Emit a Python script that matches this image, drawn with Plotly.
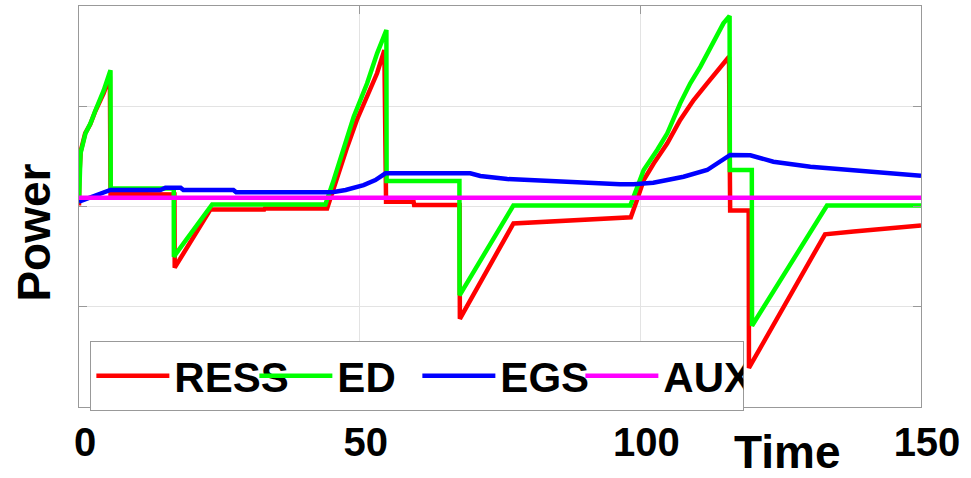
import plotly.graph_objects as go

# ---------------- data ----------------
ress_t = [0, 0.05, 0.3, 1.1, 2.0, 2.9, 4.4, 5.5, 5.62, 14.5, 17.0, 17.05, 23.4, 33.0, 33.1,
          44.2, 46.0, 47.8, 49.5, 51.3, 53.1, 54.4, 54.7, 59.6, 59.7, 67.8, 67.85, 77.4,
          85.0, 92.0, 98.3, 99.4, 100.6, 102.4, 104.8, 107.1, 109.5, 111.9, 114.2, 115.8,
          116.0, 119.3, 119.35, 132.9, 138.0, 144.0, 150.0]
ress_y = [0.01, 0.29, 0.55, 0.73, 0.82, 0.95, 1.13, 1.30, 0.125, 0.125, 0.12, -0.61, -0.03,
          -0.03, -0.02, -0.02, 0.297, 0.597, 0.863, 1.095, 1.329, 1.56, 0.048, 0.048, 0.015,
          0.015, -1.12, -0.169, -0.15, -0.13, -0.108, 0.065, 0.264, 0.431, 0.630, 0.863,
          1.062, 1.229, 1.395, 1.494, -0.04, -0.04, -1.61, -0.277, -0.25, -0.22, -0.19]

ed_t = [0, 0.27, 1.16, 2.05, 2.94, 4.42, 5.61, 5.65, 16.88, 16.9, 23.72, 43.9, 45.38, 47.16,
        48.94, 51.33, 53.11, 54.76, 54.8, 67.77, 67.8, 77.38, 98.2, 98.8, 100.6, 103.0,
        104.8, 107.1, 108.9, 110.7, 113.1, 114.8, 115.9, 115.95, 119.86, 119.9, 133.25, 150.0]
ed_y = [0.035, 0.53, 0.73, 0.83, 0.96, 1.16, 1.36, 0.18, 0.18, -0.50, 0.02, 0.02, 0.264,
        0.597, 0.896, 1.229, 1.528, 1.76, 0.254, 0.254, -0.886, 0.01, 0.01, 0.098, 0.364,
        0.564, 0.730, 1.029, 1.229, 1.395, 1.661, 1.827, 1.90, 0.364, 0.364, -1.19, 0.01, 0.01]

egs_t = [0, 5.6, 14.5, 15.4, 18.1, 18.6, 27.5, 28.0, 44.3, 45.4, 47.5, 50.7, 52.8, 54.6,
         69.7, 71.5, 76.3, 82.2, 88.7, 96.4, 98.8, 102.3, 104.8, 107.7, 111.9, 116.0,
         119.6, 123.7, 130.3, 135.6, 142.7, 150.0]
egs_y = [0.048, 0.165, 0.165, 0.188, 0.188, 0.165, 0.165, 0.142, 0.142, 0.145, 0.165,
         0.214, 0.264, 0.331, 0.331, 0.304, 0.274, 0.257, 0.237, 0.221, 0.221, 0.237,
         0.264, 0.297, 0.364, 0.514, 0.511, 0.447, 0.397, 0.371, 0.337, 0.307]

aux_t = [0, 150]
aux_y = [0.088, 0.088]

x_ticks = [0, 50, 100, 150]
x_ticktext = ["0", "50", "100", "150"]
y_ticks = [-2, -1, 0, 1, 2]

series = [
    ("RESS", ress_t, ress_y, "#ff0000"),
    ("ED", ed_t, ed_y, "#00ff00"),
    ("EGS", egs_t, egs_y, "#0000ff"),
    ("AUX", aux_t, aux_y, "#ff00ff"),
]

FONT = "Liberation Sans, Arial, Helvetica, sans-serif"

fig = go.Figure()
for name, t, y, c in series:
    fig.add_trace(go.Scatter(x=t, y=y, mode="lines", name=name,
                             line=dict(color=c, width=4.5)))

fig.update_layout(
    width=971, height=478,
    margin=dict(l=79, r=50, t=6, b=71),
    paper_bgcolor="white", plot_bgcolor="white",
    font=dict(family=FONT, color="black"),
    showlegend=True,
    legend=dict(
        orientation="h", x=0.0135, xanchor="left", y=0.165, yanchor="top",
        bgcolor="white", bordercolor="#999999", borderwidth=1,
        font=dict(family=FONT, size=42, weight="bold", color="black"),
        itemwidth=73, entrywidth=75, entrywidthmode="pixels",
        tracegroupgap=0,
    ),
    xaxis=dict(
        range=[0, 150], tickvals=x_ticks, ticktext=x_ticktext,
        showgrid=True, gridcolor="#e3e3e3", gridwidth=1, zeroline=False,
        showline=True, linecolor="#999999", linewidth=1, mirror="ticks",
        ticks="inside", ticklen=8, tickcolor="#999999",
        tickfont=dict(family=FONT, size=40, weight="bold", color="black"),
        ticklabelstandoff=0, ticklabelshift=6,
    ),
    yaxis=dict(
        range=[-2, 2], tickvals=y_ticks, showticklabels=False,
        showgrid=True, gridcolor="#e3e3e3", gridwidth=1, zeroline=False,
        showline=True, linecolor="#999999", linewidth=1, mirror="ticks",
        ticks="inside", ticklen=8, tickcolor="#999999",
    ),
    annotations=[
        dict(text="Time", xref="paper", yref="paper", x=0.841, y=-0.111,
             xanchor="center", yanchor="middle", showarrow=False,
             font=dict(family=FONT, size=46, weight="bold", color="black")),
        dict(text="Power", xref="paper", yref="paper", x=-0.0534, y=0.435,
             xanchor="center", yanchor="middle", showarrow=False, textangle=-90,
             font=dict(family=FONT, size=46, weight="bold", color="black")),
    ],
)

fig.write_html("out.html", config={"displayModeBar": False},
               post_script="document.body.style.margin='0';")
